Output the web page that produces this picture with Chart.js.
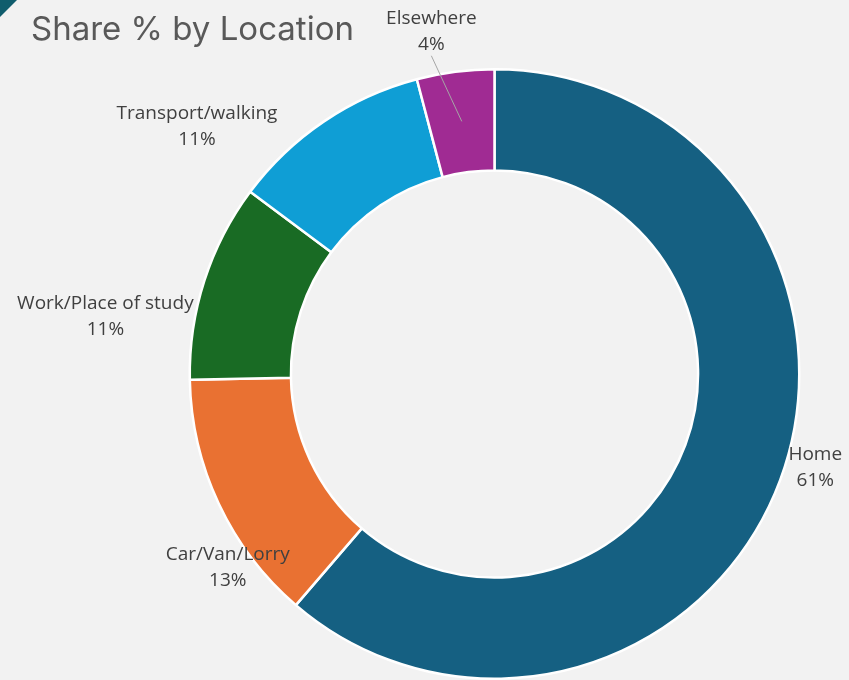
<!DOCTYPE html>
<html>
<head>
<meta charset="utf-8">
<script src="https://cdn.jsdelivr.net/npm/chart.js@4/dist/chart.umd.min.js"></script>
<style>
    html, body { margin: 0; padding: 0; background: #f2f2f2; }
    #wrap { position: relative; width: 849px; height: 680px; overflow: hidden; }
    #corner { position: absolute; left: 0; top: 0; width: 0; height: 0;
              border-top: 17px solid #105d6d; border-right: 17px solid transparent; }
    #title { position: absolute; left: 31px; top: 8px; font-family: Inter, "Open Sans", sans-serif;
             font-size: 33px; color: #595959; white-space: nowrap; }
</style>
</head>
<body>
<div id="wrap">
    <canvas id="locChart" width="849" height="680"></canvas>
    <div id="corner"></div>
    <div id="title">Share % by Location</div>
</div>
<script>
// DATA -----------------------------------------------------------------------

const locations = ['Home', 'Car/Van/Lorry', 'Work/Place of study', 'Transport/walking', 'Elsewhere']
const shares = [61.3, 13.4, 10.5, 10.7, 4.1]
const colors = ['#156082', '#E97132', '#196B24', '#0F9ED5', '#A02B93']

// label nudges from the outer edge of each slice (px)
const labelNudge = [[35, -12], [9, 64], [-99, 36], [-127, 5], [-24, -40]]

// LABEL PLUGIN ---------------------------------------------------------------

const outsideLabels = {
    id: 'outsideLabels',
    afterDatasetsDraw(chart) {
        const ctx = chart.ctx
        const meta = chart.getDatasetMeta(0)
        ctx.save()
        ctx.font = '19px "Open Sans", sans-serif'
        ctx.fillStyle = '#404040'
        ctx.textAlign = 'center'
        ctx.textBaseline = 'middle'
        meta.data.forEach((arc, i) => {
            const p = arc.getProps(['x', 'y', 'startAngle', 'endAngle', 'outerRadius'], true)
            const mid = (p.startAngle + p.endAngle) / 2
            const ex = p.x + Math.cos(mid) * p.outerRadius
            const ey = p.y + Math.sin(mid) * p.outerRadius
            const lx = ex + labelNudge[i][0]
            const ly = ey + labelNudge[i][1]
            ctx.fillText(locations[i], lx, ly - 13)
            ctx.fillText(Math.round(shares[i]) + '%', lx, ly + 13)
            if (i === 4) {
                // leader line for the small slice
                ctx.strokeStyle = '#a6a6a6'
                ctx.lineWidth = 1
                ctx.beginPath()
                ctx.moveTo(lx, ly + 24)
                ctx.lineTo(p.x + Math.cos(mid) * (p.outerRadius - 50), p.y + Math.sin(mid) * (p.outerRadius - 50))
                ctx.stroke()
            }
        })
        ctx.restore()
    }
}

// CHART ----------------------------------------------------------------------

new Chart(document.getElementById('locChart'), {
    type: 'doughnut',
    data: {
        labels: locations,
        datasets: [{
            data: shares,
            backgroundColor: colors,
            borderColor: '#ffffff',
            borderWidth: 2.5
        }]
    },
    options: {
        responsive: false,
        animation: false,
        cutout: '66.8%',
        layout: {
            padding: {left: 186, right: 46, top: 68, bottom: -6}
        },
        plugins: {
            legend: {display: false},
            tooltip: {enabled: false}
        }
    },
    plugins: [outsideLabels]
});
</script>
</body>
</html>
